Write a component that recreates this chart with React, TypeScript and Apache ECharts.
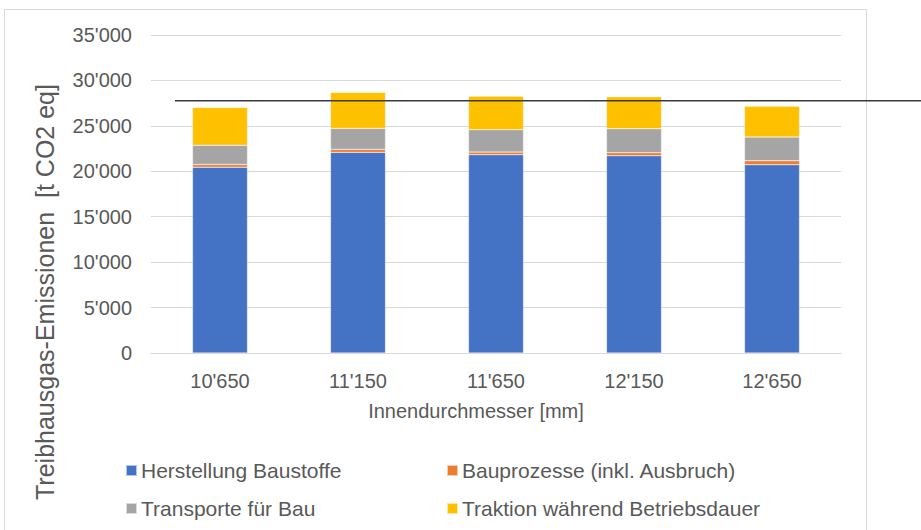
import React, { useEffect, useRef } from "react";
import * as echarts from "echarts";

const categories = ["10'650", "11'150", "11'650", "12'150", "12'650"];
const seriesNames = [
  "Herstellung Baustoffe",
  "Bauprozesse (inkl. Ausbruch)",
  "Transporte für Bau",
  "Traktion während Betriebsdauer",
];
const herstellung = [20450, 22080, 21820, 21710, 20720];
const bauprozesse = [300, 330, 290, 330, 440];
const transporte = [2120, 2310, 2460, 2640, 2600];
const traktion = [4150, 3960, 3700, 3520, 3410];
const referenceValue = 27750;
const yMax = 35000;
const yInterval = 5000;
const colors = ["#4472C4", "#ED7D31", "#A5A5A5", "#FFC000"];

const FONT = "'Liberation Sans', Arial, sans-serif";
const TEXT_COLOR = "#595959";

function fmt(v: number): string {
  if (v === 0) return "0";
  const th = Math.floor(v / 1000);
  const rest = String(v % 1000).padStart(3, "0");
  return `${th}'${rest}`;
}

export default function App() {
  const ref = useRef<HTMLDivElement>(null);
  useEffect(() => {
    document.body.style.margin = "0";
    if (!ref.current) return;
    const chart = echarts.init(ref.current, undefined, { renderer: "svg" });
    const data = [herstellung, bauprozesse, transporte, traktion];
    const legendPos = [
      { left: 125, top: 460 },
      { left: 446, top: 460 },
      { left: 125, top: 498 },
      { left: 446, top: 498 },
    ];
    chart.setOption({
      animation: false,
      grid: { left: 151, right: 80, top: 35, bottom: 177, containLabel: false },
      legend: seriesNames.map((n, i) => ({
        data: [n],
        left: legendPos[i].left,
        top: legendPos[i].top,
        padding: 0,
        itemWidth: 11,
        itemHeight: 11,
        itemGap: 0,
        icon: "rect",
        selectedMode: false,
        textStyle: { color: TEXT_COLOR, fontSize: 21, fontFamily: FONT, lineHeight: 20, padding: [0, 0, 0, -1] },
      })),
      xAxis: {
        type: "category",
        data: categories,
        axisLine: { lineStyle: { color: "#d9d9d9", width: 1 } },
        axisTick: { show: false },
        axisLabel: { color: TEXT_COLOR, fontSize: 20, fontFamily: FONT, margin: 18 },
      },
      yAxis: {
        type: "value",
        min: 0,
        max: yMax,
        interval: yInterval,
        axisLine: { show: false },
        axisTick: { show: false },
        splitLine: { lineStyle: { color: "#d9d9d9", width: 1 } },
        axisLabel: { color: TEXT_COLOR, fontSize: 20, fontFamily: FONT, margin: 19, formatter: (v: number) => fmt(v) },
      },
      series: seriesNames.map((n, i) => ({
        name: n,
        type: "bar",
        stack: "total",
        data: data[i],
        barWidth: 55,
        itemStyle: { color: colors[i], borderColor: "rgba(255,255,255,0.6)", borderWidth: 0.5 },
      })),
    });
    const y = chart.convertToPixel({ yAxisIndex: 0 }, referenceValue) as number;
    chart.setOption({
      graphic: [
        {
          type: "rect",
          id: "frame",
          shape: { x: 4.5, y: 9.5, width: 862, height: 540 },
          style: { fill: "none", stroke: "#d9d9d9", lineWidth: 1 },
          silent: true,
          z: -1,
        },
        {
          type: "line",
          id: "refline",
          shape: { x1: 175, y1: y, x2: 921, y2: y },
          style: { stroke: "#3a3a3a", lineWidth: 1.5 },
          z: 100,
        },
        {
          type: "text",
          id: "ytitle",
          x: 45,
          y: 292,
          rotation: Math.PI / 2,
          style: {
            text: "Treibhausgas-Emissionen  [t CO2 eq]",
            fill: TEXT_COLOR,
            fontSize: 25,
            fontFamily: FONT,
            align: "center",
            verticalAlign: "middle",
          },
        },
        {
          type: "text",
          id: "xtitle",
          x: 476,
          y: 411,
          style: {
            text: "Innendurchmesser [mm]",
            fill: TEXT_COLOR,
            fontSize: 20,
            fontFamily: FONT,
            align: "center",
            verticalAlign: "middle",
          },
        },
      ],
    });
    return () => chart.dispose();
  }, []);
  return <div ref={ref} style={{ width: 921, height: 530 }} />;
}
